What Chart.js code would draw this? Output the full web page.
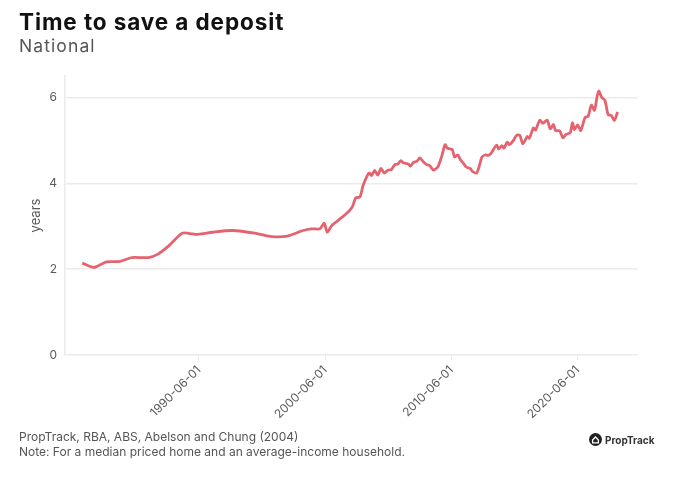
<!DOCTYPE html>
<html>
<head>
<meta charset="utf-8">
<script src="https://cdn.jsdelivr.net/npm/chart.js@4/dist/chart.umd.min.js"></script>
<style>
  html, body { margin: 0; padding: 0; background: #fff; }
  body { width: 673px; height: 479px; position: relative; overflow: hidden; font-family: Inter, "Noto Sans", sans-serif; }
  #wrap { position: absolute; left: 0; top: 0; width: 673px; height: 479px; }
  .title { position: absolute; left: 19px; top: 8px; font-size: 22.5px; font-weight: 700; color: #111; letter-spacing: 0.9px; }
  .subtitle { position: absolute; left: 19px; top: 35px; font-size: 17.5px; color: #555; letter-spacing: 1.1px; }
  .caption { position: absolute; left: 19px; top: 429px; font-size: 12px; color: #555; line-height: 15px; }
  .logo { position: absolute; left: 589px; top: 433px; display: flex; align-items: center; font-size: 10px; font-weight: 700; color: #333; }
  .logo svg { margin-right: 3px; }
</style>
</head>
<body>
<div id="wrap"><canvas id="c" width="673" height="479"></canvas></div>
<div class="title">Time to save a deposit</div>
<div class="subtitle">National</div>
<div class="caption">PropTrack, RBA, ABS, Abelson and Chung (2004)<br>Note: For a median priced home and an average-income household.</div>
<div class="logo"><svg width="13" height="13" viewBox="0 0 13 13"><circle cx="6.5" cy="6.5" r="6.5" fill="#222"/><path d="M3.6 7 L6.5 4 L9.4 7 L9.4 9.8 L3.6 9.8 Z" fill="none" stroke="#fff" stroke-width="1.3"/></svg>PropTrack</div>
<script>
const dates = [
  "1981-03-01","1982-02-01","1983-02-01","1984-03-01","1985-02-01","1986-06-01","1987-03-01","1988-02-01","1989-02-01","1989-09-01",
  "1990-05-01","1991-07-01","1993-02-01","1995-01-01","1996-03-01","1997-06-01","1998-09-01","1999-05-01","2000-01-01","2000-05-01",
  "2000-08-01","2000-12-01","2001-05-01","2001-12-01","2002-05-01","2002-08-01","2002-11-01","2003-03-01","2003-06-01","2003-10-01",
  "2003-12-01","2004-02-01","2004-05-01","2004-08-01","2004-11-01","2005-02-01","2005-06-01","2005-09-01","2005-12-01","2006-03-01",
  "2006-06-01","2006-08-01","2007-01-01","2007-03-01","2007-06-01","2007-09-01","2007-12-01","2008-03-01","2008-07-01","2008-09-01",
  "2009-01-01","2009-05-01","2009-08-01","2009-09-01","2009-12-01","2010-02-01","2010-05-01","2010-07-01","2010-09-01","2010-12-01",
  "2011-03-01","2011-05-01","2011-08-01","2011-12-01","2012-02-01","2012-06-01","2012-08-01","2012-11-01","2013-02-01","2013-05-01",
  "2013-08-01","2013-11-01","2014-01-01","2014-03-01","2014-06-01","2014-08-01","2014-11-01","2015-01-01","2015-05-01","2015-08-01",
  "2015-11-01","2016-02-01","2016-06-01","2016-08-01","2016-12-01","2017-02-01","2017-06-01","2017-09-01","2018-01-01","2018-04-01",
  "2018-07-01","2018-09-01","2019-01-01","2019-04-01","2019-07-01","2019-11-01","2020-01-01","2020-03-01","2020-06-01","2020-09-01",
  "2021-01-01","2021-04-01","2021-07-01","2021-10-01","2021-12-01","2022-02-01","2022-05-01","2022-08-01","2022-11-01","2023-02-01",
  "2023-05-01","2023-08-01"
];
const years = [
  2.14,2.04,2.17,2.18,2.27,2.27,2.35,2.56,2.84,2.83,
  2.81,2.86,2.90,2.83,2.76,2.77,2.90,2.94,2.94,3.07,
  2.86,3.01,3.11,3.25,3.36,3.46,3.66,3.68,3.95,4.18,
  4.24,4.18,4.30,4.19,4.35,4.24,4.31,4.32,4.43,4.45,
  4.53,4.48,4.45,4.40,4.49,4.51,4.59,4.51,4.43,4.42,
  4.31,4.38,4.57,4.65,4.90,4.82,4.80,4.78,4.61,4.66,
  4.53,4.48,4.38,4.34,4.28,4.24,4.36,4.61,4.66,4.65,
  4.71,4.83,4.89,4.80,4.88,4.82,4.96,4.90,5.00,5.12,
  5.12,4.92,5.09,5.05,5.29,5.24,5.47,5.40,5.47,5.27,
  5.37,5.23,5.22,5.06,5.14,5.18,5.41,5.25,5.36,5.23,
  5.53,5.56,5.82,5.70,5.95,6.15,6.00,5.93,5.60,5.58,
  5.47,5.66
];
const xTickLabels = ["1990-06-01","2000-06-01","2010-06-01","2020-06-01"];
const yTickValues = [0, 2, 4, 6];

function toDec(s) {
  const p = s.split("-");
  return parseInt(p[0], 10) + (parseInt(p[1], 10) - 1) / 12 + (parseInt(p[2], 10) - 1) / 365;
}
const points = dates.map((d, i) => ({ x: toDec(d), y: years[i] }));
const xTickPos = xTickLabels.map(toDec);
const labelFor = {};
xTickLabels.forEach((l, i) => { labelFor[xTickPos[i].toFixed(4)] = l; });

const gridCol = "#ebebeb";
const textCol = "#5a5a5a";
const fontFam = 'Inter, "Noto Sans", sans-serif';

new Chart(document.getElementById("c"), {
  type: "line",
  data: {
    datasets: [{
      data: points,
      borderColor: "#e4636e",
      borderWidth: 2.8,
      pointRadius: 0,
      tension: 0.25,
      fill: false
    }]
  },
  options: {
    responsive: false,
    animation: false,
    layout: { padding: { left: 24, top: 76, right: 35, bottom: 0 } },
    plugins: { legend: { display: false }, tooltip: { enabled: false } },
    scales: {
      x: {
        type: "linear",
        min: 1979.8,
        max: 2025.2,
        afterFit: s => { s.height = 124; },
        afterBuildTicks: s => { s.ticks = xTickPos.map(v => ({ value: v })); },
        grid: { drawOnChartArea: false, drawTicks: true, tickLength: 5, color: gridCol, lineWidth: 1 },
        border: { display: false },
        ticks: {
          autoSkip: false,
          maxRotation: 45,
          minRotation: 45,
          color: textCol,
          font: { family: fontFam, size: 12 },
          padding: 3,
          callback: v => labelFor[Number(v).toFixed(4)] || ""
        }
      },
      y: {
        min: 0,
        max: 6.5,
        afterFit: s => { s.width = 41; },
        afterBuildTicks: s => { s.ticks = yTickValues.map(v => ({ value: v })); },
        grid: { color: gridCol, lineWidth: 1.5, drawTicks: false },
        border: { display: true, color: gridCol, width: 1.5 },
        title: { display: true, text: "years", color: textCol, font: { family: fontFam, size: 13 }, padding: { top: 4, bottom: 4 } },
        ticks: { color: textCol, font: { family: fontFam, size: 12 }, padding: 8 }
      }
    }
  }
});
</script>
</body>
</html>
